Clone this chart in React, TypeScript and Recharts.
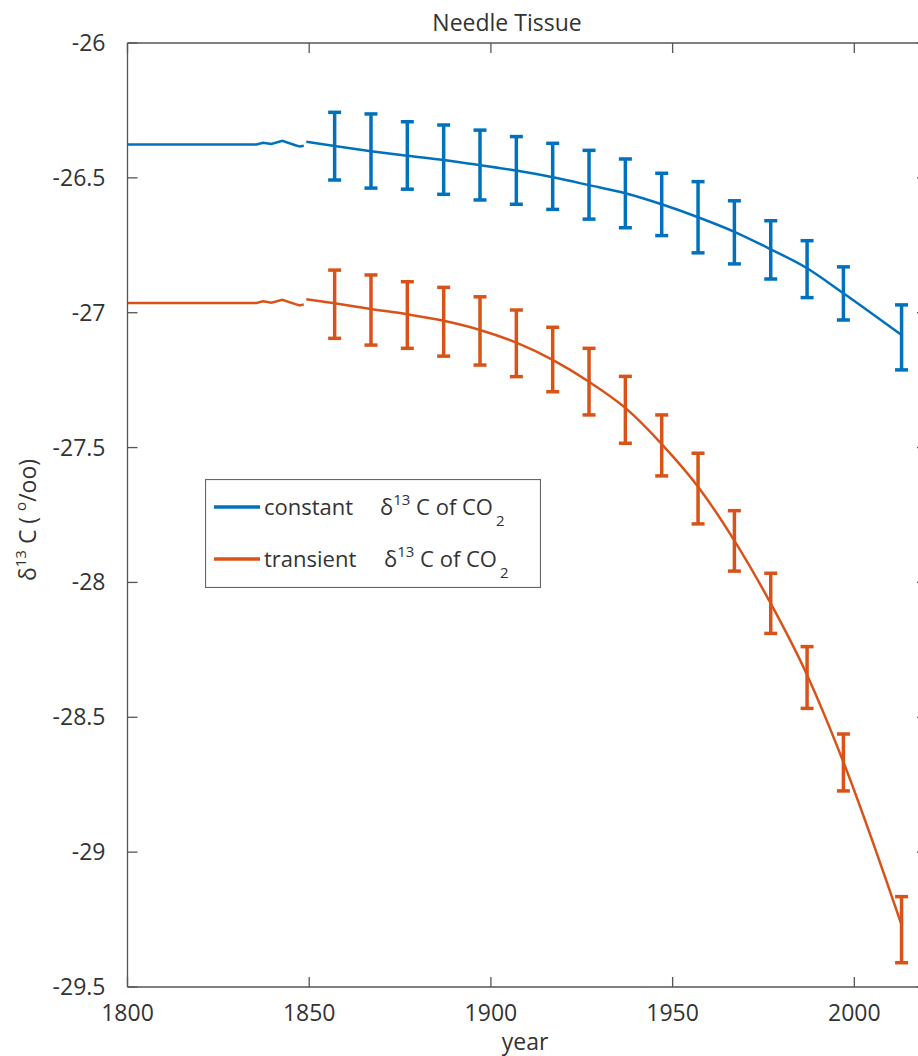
import { ComposedChart, Line, XAxis, YAxis, ErrorBar, Legend } from "recharts";

const FONT = '"Open Sans", "Noto Sans", sans-serif';
const BLUE = "#0072BD";
const ORANGE = "#D95319";
const AXIS = "#555";
const TEXT = "#333";

const yearTicks = [1800, 1850, 1900, 1950, 2000];
const valueTicks = [-29.5, -29, -28.5, -28, -27.5, -27, -26.5, -26];

// spin-up run before 1850
const spinupYears = [1800, 1835.5, 1837.3, 1839.6, 1842.6, 1846, 1847.4, 1848.5];
const constantSpinup = [-26.376, -26.376, -26.37, -26.374, -26.363, -26.378, -26.384, -26.381];
const transientSpinup = [-26.964, -26.964, -26.958, -26.963, -26.952, -26.967, -26.973, -26.969];

// model run from 1850, sampled every decade with spread
const modelStart = 1849.2;
const constantStart = -26.366;
const transientStart = -26.95;

const sampleYears = [
  1857, 1867, 1877, 1887, 1897, 1907, 1917, 1927, 1937, 1947, 1957, 1967, 1977,
  1987, 1997, 2013,
];
const constantMean = [
  -26.382, -26.401, -26.418, -26.434, -26.453, -26.473, -26.498, -26.527,
  -26.557, -26.598, -26.646, -26.7, -26.765, -26.835, -26.928, -27.083,
];
const constantHigh = [
  -26.257, -26.263, -26.292, -26.304, -26.323, -26.347, -26.372, -26.398,
  -26.43, -26.483, -26.514, -26.585, -26.659, -26.733, -26.83, -26.971,
];
const constantLow = [
  -26.508, -26.538, -26.542, -26.561, -26.582, -26.598, -26.617, -26.653,
  -26.685, -26.714, -26.778, -26.819, -26.875, -26.944, -27.027, -27.212,
];
const transientMean = [
  -26.965, -26.986, -27.006, -27.03, -27.064, -27.111, -27.175, -27.256,
  -27.353, -27.487, -27.645, -27.845, -28.078, -28.343, -28.666, -29.27,
];
const transientHigh = [
  -26.842, -26.86, -26.885, -26.906, -26.941, -26.99, -27.054, -27.132,
  -27.236, -27.379, -27.521, -27.734, -27.966, -28.238, -28.562, -29.165,
];
const transientLow = [
  -27.095, -27.12, -27.132, -27.161, -27.194, -27.237, -27.293, -27.379,
  -27.484, -27.605, -27.783, -27.958, -28.189, -28.467, -28.773, -29.41,
];

const legendItems = [
  { name: "constant", color: BLUE, formulaX: 175 },
  { name: "transient", color: ORANGE, formulaX: 179 },
];

const spinup = (vals: number[]) =>
  spinupYears.map((year, i) => ({ year, v: vals[i] }));

const model = (start: number, mean: number[]) => [
  { year: modelStart, v: start },
  ...sampleYears.map((year, i) => ({ year, v: mean[i] })),
];

const bars = (mean: number[], low: number[], high: number[]) =>
  sampleYears.map((year, i) => ({
    year,
    v: mean[i],
    err: [mean[i] - low[i], high[i] - mean[i]],
  }));

const BottomTick = ({ x, y, payload }: any) => (
  <g>
    <line x1={x} y1={y} x2={x} y2={y - 10} stroke={AXIS} strokeWidth={1.3} />
    <text x={x} y={y + 34} textAnchor="middle" fontSize={23} fill={TEXT} fontFamily={FONT}>
      {payload.value}
    </text>
  </g>
);

const TopTick = ({ x, y }: any) => (
  <line x1={x} y1={y} x2={x} y2={y + 10} stroke={AXIS} strokeWidth={1.3} />
);

const LeftTick = ({ x, y, payload }: any) => (
  <g>
    <line x1={x} y1={y} x2={x + 10} y2={y} stroke={AXIS} strokeWidth={1.3} />
    <text x={x - 22} y={y + 8} textAnchor="end" fontSize={23} fill={TEXT} fontFamily={FONT}>
      {payload.value}
    </text>
  </g>
);

const RightTick = ({ x, y }: any) => (
  <line x1={x} y1={y} x2={x - 10} y2={y} stroke={AXIS} strokeWidth={1.3} />
);

const YLabel = () => (
  <text
    transform="translate(36, 520) rotate(-90)"
    textAnchor="middle"
    fontSize={23}
    fill={TEXT}
    fontFamily={FONT}
  >
    <tspan>δ</tspan>
    <tspan fontSize={15} dy={-10}>13</tspan>
    <tspan dy={10}> C ( </tspan>
    <tspan fontSize={15} dy={-10}>o</tspan>
    <tspan dy={10}>/oo)</tspan>
  </text>
);

const LegendBox = () => (
  <svg width={336} height={109} style={{ display: "block" }}>
    <rect x={0.5} y={0.5} width={335} height={108} fill="#fff" stroke="#666" strokeWidth={1.2} />
    {legendItems.map((item, i) => {
      const rowY = 28 + i * 52;
      return (
        <g key={item.name} fontFamily={FONT} fontSize={22} fill={TEXT}>
          <line x1={9} y1={rowY} x2={55} y2={rowY} stroke={item.color} strokeWidth={3.5} />
          <text x={59} y={rowY + 8}>{item.name}</text>
          <text x={item.formulaX} y={rowY + 8}>
            <tspan>δ</tspan>
            <tspan fontSize={15} dy={-10}>13</tspan>
            <tspan dy={10}> C of CO</tspan>
            <tspan fontSize={15} dx={3} dy={11}>2</tspan>
          </text>
        </g>
      );
    })}
  </svg>
);

export default function App() {
  return (
    <div
      style={{
        position: "absolute",
        left: 0,
        top: 0,
        width: 918,
        height: 1056,
        overflow: "hidden",
        background: "#fff",
      }}
    >
      <div
        style={{
          position: "absolute",
          left: 0,
          width: 1014,
          top: 11,
          textAlign: "center",
          fontFamily: FONT,
          fontSize: 23,
          lineHeight: 1,
          color: TEXT,
        }}
      >
        Needle Tissue
      </div>
      <ComposedChart
        width={928}
        height={1056}
        margin={{ top: 0, right: 0, bottom: 0, left: 0 }}
      >
        <XAxis
          dataKey="year"
          type="number"
          domain={[1800, 2020]}
          ticks={yearTicks}
          allowDataOverflow
          height={69}
          tickSize={0}
          tickMargin={0}
          tickLine={false}
          axisLine={{ stroke: AXIS, strokeWidth: 1.3 }}
          tick={<BottomTick />}
        />
        <XAxis
          xAxisId="top"
          orientation="top"
          dataKey="year"
          type="number"
          domain={[1800, 2020]}
          ticks={yearTicks}
          allowDataOverflow
          height={43}
          tickSize={0}
          tickMargin={0}
          tickLine={false}
          axisLine={{ stroke: AXIS, strokeWidth: 1.3 }}
          tick={<TopTick />}
        />
        <YAxis
          type="number"
          domain={[-29.5, -26]}
          ticks={valueTicks}
          allowDataOverflow
          width={127.5}
          tickSize={0}
          tickMargin={0}
          tickLine={false}
          axisLine={{ stroke: AXIS, strokeWidth: 1.3 }}
          tick={<LeftTick />}
          label={<YLabel />}
        />
        <YAxis
          yAxisId="right"
          orientation="right"
          type="number"
          domain={[-29.5, -26]}
          ticks={valueTicks}
          allowDataOverflow
          width={1}
          tickSize={0}
          tickMargin={0}
          tickLine={false}
          axisLine={{ stroke: AXIS, strokeWidth: 1.3 }}
          tick={<RightTick />}
        />
        <Legend
          content={<LegendBox />}
          verticalAlign="middle"
          layout="horizontal"
          wrapperStyle={{ left: 205, top: 479, width: 336, height: 109 }}
        />

        <Line data={spinup(constantSpinup)} dataKey="v" type="linear" stroke={BLUE} strokeWidth={2.5} dot={false} activeDot={false} isAnimationActive={false} legendType="none" />
        <Line data={spinup(transientSpinup)} dataKey="v" type="linear" stroke={ORANGE} strokeWidth={2.5} dot={false} activeDot={false} isAnimationActive={false} legendType="none" />
        <Line data={model(constantStart, constantMean)} dataKey="v" type="monotone" stroke={BLUE} strokeWidth={2.5} dot={false} activeDot={false} isAnimationActive={false} legendType="none" />
        <Line data={model(transientStart, transientMean)} dataKey="v" type="monotone" stroke={ORANGE} strokeWidth={2.5} dot={false} activeDot={false} isAnimationActive={false} legendType="none" />

        <Line data={bars(constantMean, constantLow, constantHigh)} dataKey="v" stroke="none" dot={false} activeDot={false} isAnimationActive={false} legendType="none">
          <ErrorBar dataKey="err" direction="y" width={6.5} stroke={BLUE} strokeWidth={3.5} isAnimationActive={false} />
        </Line>
        <Line data={bars(transientMean, transientLow, transientHigh)} dataKey="v" stroke="none" dot={false} activeDot={false} isAnimationActive={false} legendType="none">
          <ErrorBar dataKey="err" direction="y" width={6.5} stroke={ORANGE} strokeWidth={3.5} isAnimationActive={false} />
        </Line>
      </ComposedChart>
      <div
        style={{
          position: "absolute",
          left: 0,
          width: 1050,
          top: 1030,
          textAlign: "center",
          fontFamily: FONT,
          fontSize: 23,
          lineHeight: 1,
          color: TEXT,
        }}
      >
        year
      </div>
    </div>
  );
}
